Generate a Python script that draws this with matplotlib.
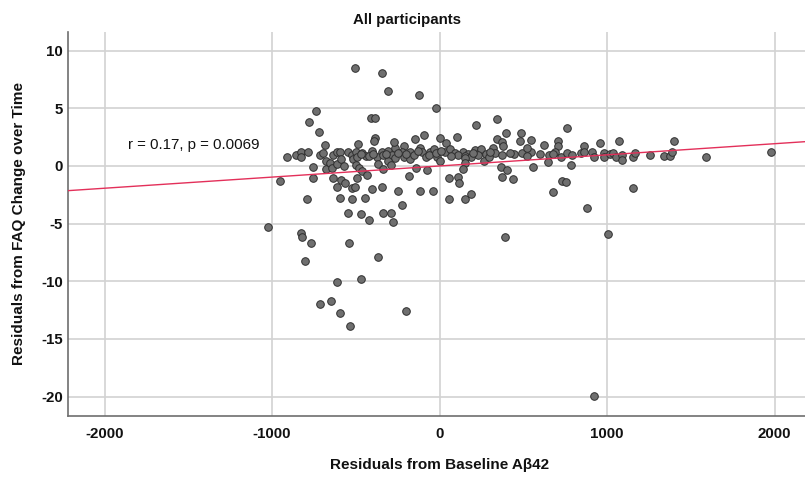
import matplotlib
matplotlib.use("Agg")
import matplotlib.pyplot as plt
import numpy as np

plt.rcParams['font.family'] = ['Liberation Sans', 'DejaVu Sans']

title = "All participants"
x_label = "Residuals from Baseline Aβ42"
y_label = "Residuals from FAQ Change over Time"
annotation = "r = 0.17, p = 0.0069"

x_ticks = [-2000, -1000, 0, 1000, 2000]
y_ticks = [-20, -15, -10, -5, 0, 5, 10]

# fitted line
fit_slope = 0.000965
fit_intercept = 0.0

# residuals of baseline Abeta42 (x) and FAQ change (y)
abeta_resid = [
    -505, -345, -310, -125, -20, -735, -780, -720, -685, -410, -385, -385, -390,
    345, 215, 760, 1400,
    -910, -855, -830, -830, -785, -755, -715, -695, -680, -675, -655, -635, -615,
    -595, -640, -615, -590, -570, -545, -525, -515,
    -955, -755, -635, -590, -565, -610, -525, -790, -595, -525, -545,
    -1025, -825, -820, -765, -540, -365, -805, -615, -470, -650, -715, -595, -200,
    -535, -275, 920,
    -485, -500, -460, -405, -345, -305, -265, -270, -215, -225, -175, -145, -90,
    -115, -105, -55, -35, 0, 35, 40,
    -495, -440, -375, -335, -285, -265, -215, -175, -80, -15, 5,
    -365, -305, -290, -500, -480, -460, -335, -140, -75, -435, -490, -185, 55,
    -505, -405, -345, -250, -115, -40, -445, -225, 55, -470, -340, -290, -420,
    65, 90, 140, 170, 210, 240, 250, 280, 320, 330, 375, 445, 495, 545,
    110, 155, 190, 230, 265, 155, 295, 150,
    105, 395, 485, 345, 370, 380, 480, 545, 625, 525,
    140, 365, 405, 560, 110, 375, 440, 115, 155, 190, 390,
    710, 710, 865, 960, 1070, 690, 655, 680, 650, 725, 760, 790, 785, 845, 865,
    910, 920, 980, 980, 1020, 1035, 1055, 1090, 1090, 1155, 1165,
    730, 755, 680, 1155, 880, 1005,
    1255, 1340, 1375, 1385, 1590, 1980,
    -470, -420, -395, -320, -250, -200, -150, -130, -60, -20, 10, 70, 200, 300,
    420, 520, 600,
]
faq_resid = [
    8.5, 8.05, 6.5, 6.15, 5.0, 4.75, 3.8, 2.95, 1.8, 4.2, 4.2, 2.45, 2.15,
    4.1, 3.55, 3.3, 2.2,
    0.8, 0.95, 1.2, 0.8, 1.25, -0.05, 0.95, 1.1, 0.45, -0.25, 0.25, 0.95, 1.25,
    1.25, -0.2, 0.15, 0.6, 0.0, 1.25, 0.95, 0.6,
    -1.3, -1.0, -1.0, -1.2, -1.5, -1.85, -1.9, -2.85, -2.75, -2.85, -4.1,
    -5.25, -5.8, -6.2, -6.7, -6.7, -7.85, -8.25, -10.1, -9.8, -11.7, -12.0, -12.75, -12.55,
    -13.85, -4.85, -19.9,
    1.9, 1.25, 1.1, 1.3, 1.2, 1.3, 1.6, 2.05, 1.75, 1.25, 1.25, 2.35, 2.7,
    1.6, 1.2, 1.25, 1.45, 2.45, 1.25, 1.95,
    0.8, 0.9, 0.8, 0.95, 0.95, 0.65, 0.8, 0.6, 0.8, 0.8, 0.45,
    0.15, 0.45, 0.1, 0.1, -0.2, -0.45, -0.25, -0.15, -0.35, -0.8, -1.0, -0.85, -1.0,
    -1.8, -2.0, -1.8, -2.15, -2.15, -2.15, -2.75, -3.4, -2.85, -4.15, -4.1, -4.1, -4.65,
    1.45, 1.1, 1.25, 1.0, 1.35, 1.25, 1.5, 1.0, 1.6, 1.1, 0.95, 1.0, 1.15, 1.2,
    0.95, 0.9, 0.8, 0.95, 0.45, 0.65, 0.8, 0.25,
    2.5, 2.85, 2.85, 2.35, 2.05, 1.75, 2.15, 2.25, 1.8, 1.55,
    -0.3, -0.1, -0.35, -0.05, -0.95, -0.95, -1.15, -1.5, -2.85, -2.45, -6.15,
    2.2, 1.75, 1.75, 1.95, 2.2, 1.25, 0.95, 1.05, 0.35, 0.8, 1.1, 0.95, 0.1, 1.15, 1.25,
    1.25, 0.75, 1.15, 0.75, 1.05, 1.1, 0.75, 0.95, 0.5, 0.75, 1.15,
    -1.3, -1.35, -2.3, -1.9, -3.65, -5.9,
    0.95, 0.85, 0.85, 1.25, 0.75, 1.2,
    1.0, 0.9, 1.05, 1.0, 1.1, 1.0, 0.95, 1.3, 0.95, 1.1, 1.3, 0.85, 1.1, 1.2,
    1.15, 0.9, 1.0,
]

W, H = 805, 479
fig = plt.figure(figsize=(W / 100, H / 100), dpi=100)
left, right, bottom, top = 67.7 / W, 1.0, 1 - 415.7 / H, 1 - 31.7 / H
ax = fig.add_axes([left, bottom, right - left, top - bottom])

ax.set_xlim(-2220, 2182)
ax.set_ylim(-21.65, 11.64)
ax.set_xticks(x_ticks)
ax.set_yticks(y_ticks)
ax.set_xticklabels([str(v) for v in x_ticks])
ax.set_yticklabels([str(v) for v in y_ticks])
ax.grid(True, color='#d2d2d2', linewidth=1.2, zorder=0)
ax.set_axisbelow(True)
for s in ['top', 'right']:
    ax.spines[s].set_visible(False)
for s in ['left', 'bottom']:
    ax.spines[s].set_color('#6e6e6e')
    ax.spines[s].set_linewidth(1.2)
ax.tick_params(axis='both', length=0, labelsize=10.8, colors='#111111')
ax.tick_params(axis='x', pad=8)
ax.tick_params(axis='y', pad=3.5)
for lab in ax.get_xticklabels() + ax.get_yticklabels():
    lab.set_fontweight('bold')

ax.scatter(abeta_resid, faq_resid, s=30, facecolor='#6f6f6f', edgecolor='#2e2e2e',
           linewidth=0.7, zorder=3)

xl = np.array(ax.get_xlim())
ax.plot(xl, fit_intercept + fit_slope * xl, color='#e3305a', linewidth=1.0, zorder=4)

ax.text(-1861, 1.78, annotation, fontsize=10.8, va='center', ha='left', color='#111111')

fig.text(407 / W, 1 - 24 / H, title, ha='center', va='baseline', fontsize=10.8,
         fontweight='bold', color='#111111')
fig.text(439.7 / W, 1 - 469 / H, x_label, ha='center', va='baseline', fontsize=11,
         fontweight='bold', color='#111111')
fig.text(19 / W, (bottom + top) / 2, y_label, ha='center', va='center', rotation=90,
         fontsize=11, fontweight='bold', color='#111111')

fig.savefig('out.png', dpi=100)
